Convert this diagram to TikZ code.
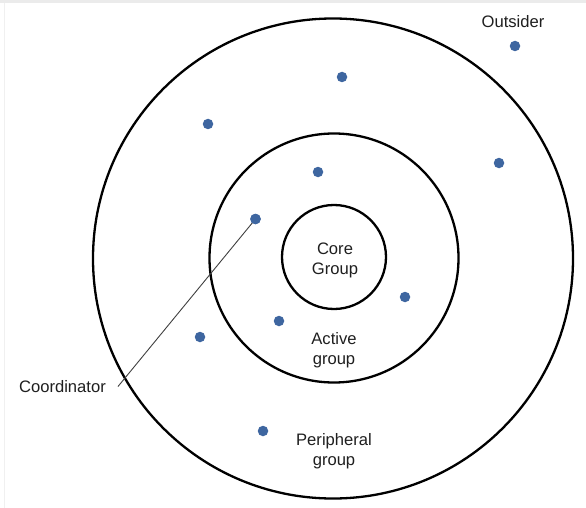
\documentclass[tikz,border=0pt]{standalone}
\usepackage{fontspec}
\setmainfont{Liberation Sans}
\begin{document}
\begin{tikzpicture}[x=1pt,y=-1pt,
  ring/.style={draw=black,line width=2.3pt,circle,inner sep=0pt,outer sep=0pt},
  member/.style={circle,fill=memberblue,inner sep=0pt,minimum size=10.5pt},
  lbl/.style={font=\fontsize{16.6}{20}\selectfont,text=black!88,align=center,inner sep=0pt}]
\definecolor{memberblue}{RGB}{62,102,160}
\useasboundingbox (0,0) rectangle (586,508);
\fill[white] (0,0) rectangle (586,508);
\fill[black!8] (0,0) rectangle (586,3.5);
\draw[black!6,line width=0.8pt] (4,3.5) -- (4,508);
% rings
\node[ring,minimum size=480pt] (outer) at (333,258.5) {};
\node[ring,minimum size=249pt] (middle) at (334,258) {};
\node[ring,minimum size=104pt] (inner) at (334,257) {};
% members
\node[member] (out1) at (515,46) {};
\node[member] (p1) at (342,77) {};
\node[member] (p2) at (208,124) {};
\node[member] (p3) at (499,163) {};
\node[member] (p4) at (200,337) {};
\node[member] (p5) at (263,431) {};
\node[member] (a1) at (318,172) {};
\node[member] (cd) at (255.5,219) {};
\node[member] (a2) at (405,297) {};
\node[member] (a3) at (279,321) {};
% coordinator pointer
\coordinate (cend) at (118,386.5);
\draw[black!75,line width=0.9pt] (cd.center) -- (cend);
\node[member] at (cd) {};
% labels
\node[lbl,anchor=east] (lcoord) at (106,387) {Coordinator};
\node[lbl] (lout) at (513,22) {Outsider};
\node[lbl] (lcore) at (335,260) {Core\\Group};
\node[lbl] (lactive) at (334,350.5) {Active\\group};
\node[lbl] (lperi) at (334,451.5) {Peripheral\\group};
\end{tikzpicture}
\end{document}
